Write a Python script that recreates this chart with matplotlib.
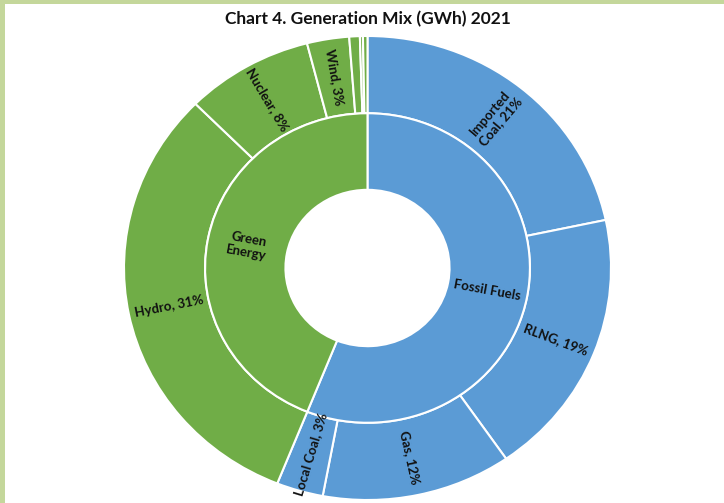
import numpy as np
import matplotlib
matplotlib.use("Agg")
import matplotlib.pyplot as plt
from matplotlib.patches import Rectangle

# --------------------------------------------------------------------------- #
# Data (share of total generation, %)
# --------------------------------------------------------------------------- #
groups = ["Fossil Fuels", "Green\nEnergy"]
group_colors = ["#5B9BD5", "#70AD47"]

sources = ["Imported Coal", "RLNG", "Gas", "Local Coal",
           "Hydro", "Nuclear", "Wind", "Solar", "Bagasse", "Other"]
source_group = [0, 0, 0, 0, 1, 1, 1, 1, 1, 1]
source_share = [21.7, 18.7, 12.6, 3.1, 31.5, 8.5, 2.8, 0.7, 0.2, 0.3]
source_labels = ["Imported\nCoal, 21%", "RLNG, 19%", "Gas, 12%", "Local Coal, 3%",
                 "Hydro, 31%", "Nuclear, 8%", "Wind, 3%", "", "", ""]

title = "Chart 4. Generation Mix (GWh) 2021"

# --------------------------------------------------------------------------- #
# Layout: the ring is slightly squashed vertically, as in the original
# --------------------------------------------------------------------------- #
W, H = 724, 503
cx_px, cy_px = 367.5, 268.0      # ring centre (pixels from top-left)
rx_px, ry_px = 243.5, 232.0      # outer radius along x / y
R_OUT, R_MID, R_HOLE = 1.0, 0.667, 0.337

group_share = [sum(s for s, g in zip(source_share, source_group) if g == i)
               for i in range(len(groups))]
source_colors = [group_colors[g] for g in source_group]

fig = plt.figure(figsize=(W / 100, H / 100), dpi=100)
ax = fig.add_axes([0, 0, 1, 1])

wedge_kw = dict(edgecolor="white", linewidth=1.5)
ax.pie(source_share, radius=R_OUT, colors=source_colors, startangle=90,
       counterclock=False, wedgeprops=dict(width=R_OUT - R_MID, **wedge_kw))
ax.pie(group_share, radius=R_MID, colors=group_colors, startangle=90,
       counterclock=False, wedgeprops=dict(width=R_MID - R_HOLE, **wedge_kw))

ax.set_aspect("auto")
ax.set_xlim(-cx_px / rx_px, (W - cx_px) / rx_px)
ax.set_ylim((cy_px - H) / ry_px, cy_px / ry_px)
ax.axis("off")


def place_labels(shares, labels, r):
    total = float(sum(shares))
    start = 0.0
    for share, lab in zip(shares, labels):
        mid = start + share / 2
        start += share
        if not lab:
            continue
        theta = np.radians(90 - 360 * mid / total)
        x, y = r * np.cos(theta), r * np.sin(theta)
        # radial direction as it appears on screen
        rot = np.degrees(np.arctan2(ry_px * np.sin(theta), rx_px * np.cos(theta)))
        if rot > 90:
            rot -= 180
        elif rot < -90:
            rot += 180
        ax.text(x, y, lab, rotation=rot, rotation_mode="anchor",
                ha="center", va="center", fontsize=9.5, fontweight="bold",
                family=["Lato", "DejaVu Sans"], color="#111111",
                linespacing=1.15)


place_labels(source_share, source_labels, (R_OUT + R_MID) / 2)
place_labels(group_share, groups, (R_MID + R_HOLE) / 2)

fig.text(cx_px / W, 1 - 19 / H, title, ha="center", va="center",
         fontsize=12.5, fontweight="bold", family=["Lato", "DejaVu Sans"],
         color="#111111")

# light green frame on the top and left edges
frame = "#C4D79B"
fig.patches.append(Rectangle((0, 1 - 4 / H), 1, 4 / H, transform=fig.transFigure,
                             facecolor=frame, edgecolor="none"))
fig.patches.append(Rectangle((0, 0), 5 / W, 1, transform=fig.transFigure,
                             facecolor=frame, edgecolor="none"))

fig.savefig("out.png", dpi=100)
